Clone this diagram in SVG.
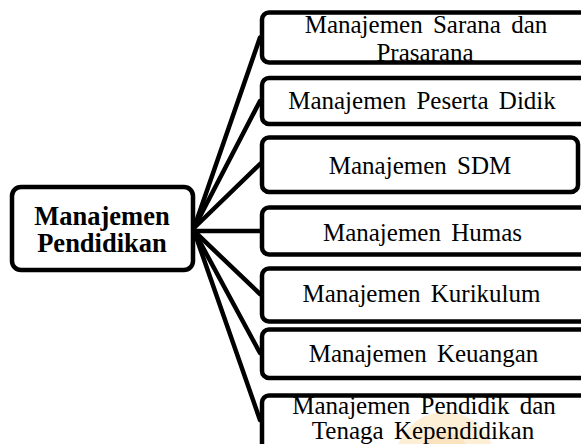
<svg xmlns="http://www.w3.org/2000/svg" width="581" height="444" viewBox="0 0 581 444">
<style>
.box{fill:#fff;stroke:#000;stroke-width:4.5}
.conn line{stroke:#000;stroke-width:4.5;stroke-linecap:round}
.t{font-family:"Liberation Serif","Times New Roman",serif;font-size:25px;fill:#000;text-anchor:middle;word-spacing:4px}
.b{font-family:"Liberation Serif","Times New Roman",serif;font-size:26.5px;font-weight:bold;fill:#000;text-anchor:middle}
</style>
<rect width="581" height="444" fill="#fff"/>
<g id="connectors" class="conn">
<line x1="194" y1="228" x2="260" y2="37.5"/>
<line x1="194" y1="228" x2="260" y2="101"/>
<line x1="194" y1="228" x2="260" y2="164"/>
<line x1="194" y1="231" x2="260" y2="231"/>
<line x1="194" y1="231" x2="260" y2="294"/>
<line x1="194" y1="231" x2="260" y2="353"/>
<line x1="194" y1="231" x2="260" y2="420"/>
</g>
<g id="root">
<rect class="box" x="12" y="187" width="181" height="83" rx="9"/>
<text class="b" x="102" y="225">Manajemen</text>
<text class="b" x="102" y="252">Pendidikan</text>
</g>
<g id="n1">
<rect class="box" x="262" y="12.5" width="325" height="50" rx="7"/>
<text class="t" x="426" y="33">Manajemen Sarana dan</text>
<text class="t" x="425" y="61">Prasarana</text>
</g>
<g id="n2">
<rect class="box" x="262" y="78" width="325" height="46" rx="7"/>
<text class="t" x="422" y="109">Manajemen Peserta Didik</text>
</g>
<g id="n3">
<rect class="box" x="262" y="137.5" width="316" height="54.5" rx="7"/>
<text class="t" x="420" y="174">Manajemen SDM</text>
</g>
<g id="n4">
<rect class="box" x="262" y="207.5" width="325" height="47" rx="7"/>
<text class="t" x="422.5" y="241">Manajemen Humas</text>
</g>
<g id="n5">
<rect class="box" x="262" y="268.5" width="325" height="53" rx="7"/>
<text class="t" x="421.5" y="302">Manajemen Kurikulum</text>
</g>
<g id="n6">
<rect class="box" x="262" y="329.5" width="325" height="48.5" rx="7"/>
<text class="t" x="423.5" y="362">Manajemen Keuangan</text>
</g>
<g id="n7">
<rect class="box" x="262" y="395.5" width="325" height="55" rx="7"/>
<g id="watermark" opacity="0.45">
<ellipse cx="445" cy="462" rx="50" ry="50" fill="#fbdca6"/>
<ellipse cx="445" cy="462" rx="26" ry="30" fill="#f6c371"/>
</g>
<text class="t" x="424" y="414">Manajemen Pendidik dan</text>
<text class="t" x="423" y="439">Tenaga Kependidikan</text>
</g>
</svg>
